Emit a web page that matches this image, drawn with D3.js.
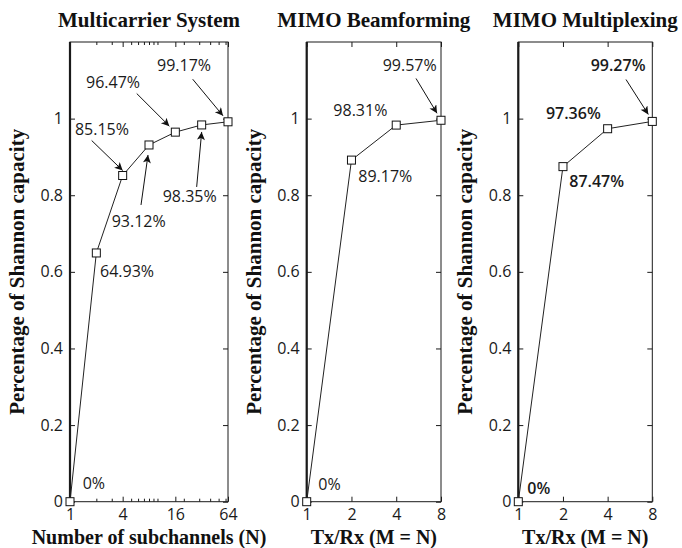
<!DOCTYPE html>
<html>
<head>
<meta charset="utf-8">
<script src="https://cdn.jsdelivr.net/npm/d3@7"></script>
<style>
  html, body { margin: 0; padding: 0; background: #fff; }
  svg { display: block; }
  .tick text { font-family: "Open Sans", "Liberation Sans", sans-serif; font-size: 16px; fill: #1a1a1a; }
  .tick line { stroke: #1a1a1a; }
  .serif { font-family: "Liberation Serif", "DejaVu Serif", serif; font-weight: bold; font-size: 21px; fill: #111; }
  .xlab { font-size: 20px; }
  .note { font-family: "Open Sans", "Liberation Sans", sans-serif; font-size: 16px; fill: #1a1a1a; }
</style>
</head>
<body>
<svg id="chart" width="682" height="548"></svg>
<script>
// ---- data --------------------------------------------------------------
var subchannels = [1, 2, 4, 8, 16, 32, 64];
var multicarrierPct = [0, 0.6493, 0.8515, 0.9312, 0.9647, 0.9835, 0.9917];
var multicarrierLabels = ["0%", "64.93%", "85.15%", "93.12%", "96.47%", "98.35%", "99.17%"];

var antennas = [1, 2, 4, 8];
var beamformingPct = [0, 0.8917, 0.9831, 0.9957];
var beamformingLabels = ["0%", "89.17%", "98.31%", "99.57%"];
var multiplexingPct = [0, 0.8747, 0.9736, 0.9927];
var multiplexingLabels = ["0%", "87.47%", "97.36%", "99.27%"];

var yTicks = [0, 0.2, 0.4, 0.6, 0.8, 1];
var subchannelTicks = [1, 4, 16, 64];
var subchannelMinor = [2, 3, 5, 6, 7, 8, 9, 10, 20, 30, 40, 50, 60];
var antennaTicks = [1, 2, 4, 8];

// ---- layout ------------------------------------------------------------
var TOP = 42, BOTTOM = 501.7;
var svg = d3.select("#chart");

var defs = svg.append("defs");
defs.append("marker").attr("id", "head")
  .attr("viewBox", "0 0 10 10").attr("refX", 10).attr("refY", 5)
  .attr("markerUnits", "userSpaceOnUse")
  .attr("markerWidth", 11).attr("markerHeight", 8).attr("orient", "auto")
  .append("path").attr("d", "M0,0 L10,5 L0,10 L2.5,5 Z").attr("fill", "#111");

// annotation placement: [text dx, text dy, arrow start dx, dy, arrow tip dx, dy] rel. to point
var panels = [
  {
    left: 70, right: 228, xs: subchannels, ys: multicarrierPct, labels: multicarrierLabels,
    domain: [1, 64], ticks: subchannelTicks, minor: subchannelMinor,
    title: "Multicarrier System", xLabel: "Number of subchannels (N)", weight: "normal",
    notes: [
      [12.7, -12.7], [3.7, 24],
      [-47.7, -40.3, -31, -35, 0, -5],
      [-37.3, 81.9, -8, 60, -1, 10],
      [-89.3, -43.9, -38.6, -38.6, -6, -6],
      [-39, 77, -5, 62, 0, 7],
      [-71, -50.9, -35.3, -42.6, -5, -6]
    ]
  },
  {
    left: 306.7, right: 441, xs: antennas, ys: beamformingPct, labels: beamformingLabels,
    domain: [1, 8], ticks: antennaTicks, minor: [],
    title: "MIMO Beamforming", xLabel: "Tx/Rx (M = N)", weight: "normal",
    notes: [
      [11.6, -11.7], [6.8, 21.8], [-62.9, -9.3],
      [-58.3, -49.4, -25, -41.8, -4, -7]
    ]
  },
  {
    left: 518.3, right: 652.3, xs: antennas, ys: multiplexingPct, labels: multiplexingLabels,
    domain: [1, 8], ticks: antennaTicks, minor: [],
    title: "MIMO Multiplexing", xLabel: "Tx/Rx (M = N)", weight: 600,
    notes: [
      [9, -7.7], [6.3, 20.3], [-61.7, -10.2],
      [-61.6, -50.5, -26.3, -41.9, -4, -7]
    ]
  }
];

panels.forEach(function (p) {
  var x = d3.scaleLog().base(2).domain(p.domain).range([p.left, p.right]);
  var y = d3.scaleLinear().domain([0, 1.2]).range([BOTTOM, TOP]);
  var g = svg.append("g");
  var w = p.right - p.left, h = BOTTOM - TOP;

  // axes, ticks pointing inward
  var fmt = function (d) { return String(d); };
  g.append("g").attr("transform", "translate(" + p.left + ",0)")
    .call(d3.axisLeft(y).tickValues(yTicks).tickSize(-5).tickPadding(7).tickFormat(fmt));
  g.append("g").attr("transform", "translate(" + p.right + ",0)")
    .call(d3.axisRight(y).tickValues(yTicks).tickSize(-5).tickFormat(""));
  g.append("g").attr("transform", "translate(0," + BOTTOM + ")")
    .call(d3.axisBottom(x).tickValues(p.ticks).tickSize(-5).tickPadding(7).tickFormat(fmt));
  g.append("g").attr("transform", "translate(0," + TOP + ")")
    .call(d3.axisTop(x).tickValues(p.ticks).tickSize(-5).tickFormat(""));
  if (p.minor.length) {
    g.append("g").attr("transform", "translate(0," + BOTTOM + ")")
      .call(d3.axisBottom(x).tickValues(p.minor).tickSize(-3).tickFormat(""));
    g.append("g").attr("transform", "translate(0," + TOP + ")")
      .call(d3.axisTop(x).tickValues(p.minor).tickSize(-3).tickFormat(""));
  }
  g.selectAll(".domain").remove();

  // frame, left spine heavier
  g.append("rect").attr("x", p.left).attr("y", TOP).attr("width", w).attr("height", h)
    .attr("fill", "none").attr("stroke", "#1a1a1a").attr("stroke-width", 1);
  g.append("line").attr("x1", p.left).attr("x2", p.left).attr("y1", TOP).attr("y2", BOTTOM)
    .attr("stroke", "#1a1a1a").attr("stroke-width", 2.2);

  // series line + square markers
  var pts = p.xs.map(function (v, i) { return [v, p.ys[i]]; });
  g.append("path").datum(pts)
    .attr("d", d3.line().x(function (d) { return x(d[0]); }).y(function (d) { return y(d[1]); }))
    .attr("fill", "none").attr("stroke", "#222").attr("stroke-width", 1);
  g.selectAll(".pt").data(pts).enter().append("rect")
    .attr("x", function (d) { return x(d[0]) - 4; })
    .attr("y", function (d) { return y(d[1]) - 4; })
    .attr("width", 8).attr("height", 8)
    .attr("fill", "#fff").attr("stroke", "#111").attr("stroke-width", 1);

  // value labels and arrows
  p.notes.forEach(function (n, i) {
    var px = x(p.xs[i]), py = y(p.ys[i]);
    g.append("text").attr("class", "note")
      .attr("x", px + n[0]).attr("y", py + n[1])
      .style("font-weight", p.weight)
      .text(p.labels[i]);
    if (n.length > 2) {
      g.append("line")
        .attr("x1", px + n[2]).attr("y1", py + n[3])
        .attr("x2", px + n[4]).attr("y2", py + n[5])
        .attr("stroke", "#111").attr("stroke-width", 1)
        .attr("marker-end", "url(#head)");
    }
  });

  // titles and axis labels
  svg.append("text").attr("class", "serif")
    .attr("x", (p.left + p.right) / 2).attr("y", 26.5).attr("text-anchor", "middle")
    .text(p.title);
  svg.append("text").attr("class", "serif xlab")
    .attr("x", (p.left + p.right) / 2).attr("y", 543.5).attr("text-anchor", "middle")
    .text(p.xLabel);
  svg.append("text").attr("class", "serif")
    .attr("transform", "translate(" + (p.left - 46) + "," + ((TOP + BOTTOM) / 2) + ") rotate(-90)")
    .attr("text-anchor", "middle")
    .text("Percentage of Shannon capacity");
});
</script>
</body>
</html>
